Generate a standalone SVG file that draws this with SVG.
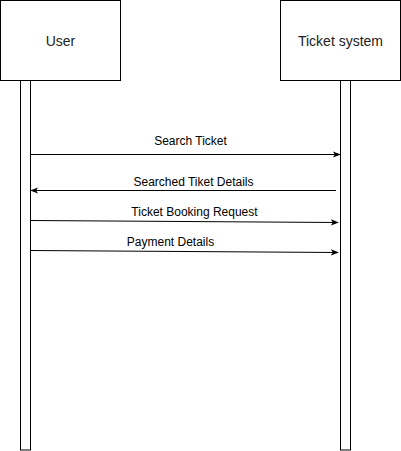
<svg xmlns="http://www.w3.org/2000/svg" width="401" height="451" viewBox="0 0 401 451">
<style>
.box{fill:#fff;stroke:#000;stroke-width:1}
.t{font-family:"Liberation Sans",Arial,sans-serif;fill:#000}
.nl{font-size:14px;text-anchor:middle;fill:#222}
.ml{font-size:12px;text-anchor:middle}
.msg{stroke:#000;stroke-width:1;fill:none}
</style>
<defs>
<marker id="ah" viewBox="0 0 10 10" refX="9" refY="5" markerWidth="8" markerHeight="8" markerUnits="userSpaceOnUse" orient="auto">
<path d="M0,1 L10,5 L0,9 L2.5,5 Z" fill="#000"/>
</marker>
</defs>
<rect width="401" height="451" fill="#fff"/>
<g id="user">
<rect class="box" x="0.5" y="0.5" width="120" height="80"/>
<text class="t nl" x="60.5" y="46">User</text>
<rect class="box" x="20.5" y="80.5" width="10" height="369.5"/>
</g>
<g id="ticket-system">
<rect class="box" x="280.5" y="0.5" width="120" height="80"/>
<text class="t nl" x="340.5" y="46">Ticket system</text>
<rect class="box" x="340.5" y="80.5" width="10" height="369.5"/>
</g>
<g id="connectors">
<line class="msg" x1="31" y1="154.5" x2="340" y2="154.5" marker-end="url(#ah)"/>
<line class="msg" x1="336" y1="190.5" x2="31" y2="190.5" marker-end="url(#ah)"/>
<line class="msg" x1="31" y1="220.5" x2="338" y2="222.5" marker-end="url(#ah)"/>
<line class="msg" x1="31" y1="250.5" x2="338" y2="252.5" marker-end="url(#ah)"/>
</g>
<g id="labels">
<text class="t ml" x="190.5" y="145">Search Ticket</text>
<text class="t ml" x="193.5" y="185.5">Searched Tiket Details</text>
<text class="t ml" x="194.5" y="215.5">Ticket Booking Request</text>
<text class="t ml" x="170.5" y="245.5">Payment Details</text>
</g>
</svg>
